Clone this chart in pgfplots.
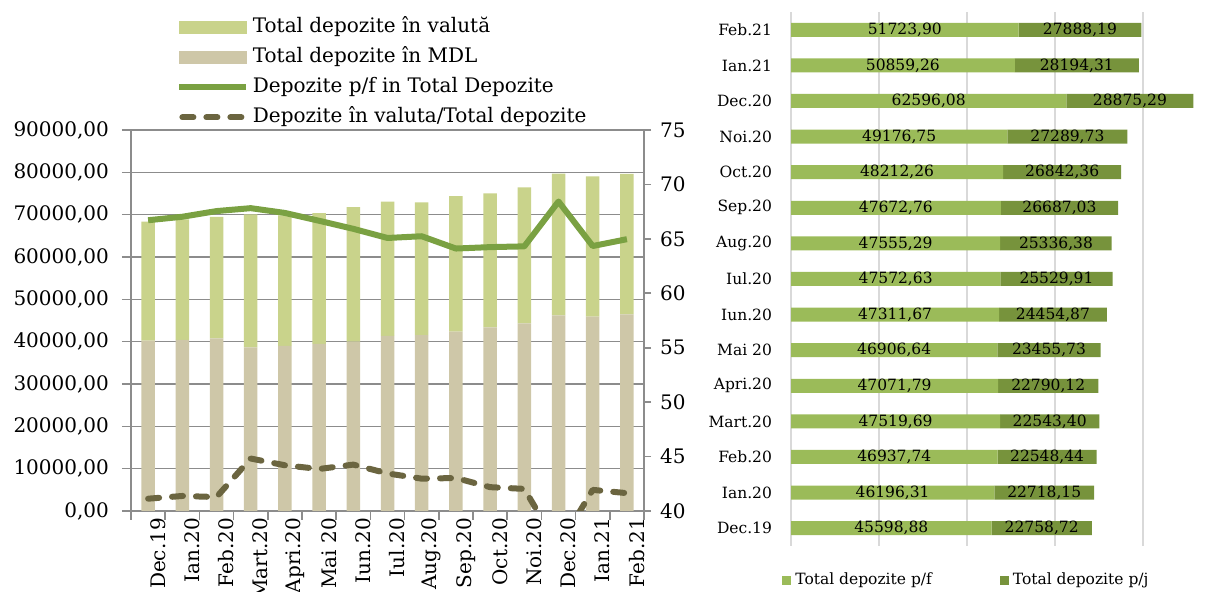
\documentclass[border=0pt]{standalone}
\usepackage{fontspec}
\setmainfont{DejaVu Serif}
\usepackage{pgfplots}
\usepackage{pgfplotstable}
\pgfplotsset{compat=1.18}
\pgfplotsset{/pgf/number format/assume math mode=true}

\definecolor{valcol}{RGB}{201,211,139}
\definecolor{mdlcol}{RGB}{206,199,168}
\definecolor{pfline}{RGB}{122,161,66}
\definecolor{dashcol}{RGB}{107,101,64}
\definecolor{pfbar}{RGB}{155,187,89}
\definecolor{pjbar}{RGB}{119,147,60}
\definecolor{gridgray}{RGB}{140,140,140}
\definecolor{lightgrid}{RGB}{217,217,217}

\pgfplotsset{
  sqlegend/.style={legend image code/.code={\fill[##1] (0pt,-2.25pt) rectangle (4.5pt,2.25pt);}},
  lnlegend/.style={legend image code/.code={\draw[##1] (0pt,0pt) -- (33.5pt,0pt);}},
  dslegend/.style={legend image code/.code={\draw[##1] (1.5pt,0pt) -- (33.5pt,0pt);}},
}

\pgfplotstableread{
idx mdl val pf vp
0 40240 28117.60 66.71 41.13
1 40400 28514.46 67.03 41.38
2 40800 28686.18 67.55 41.28
3 38660 31403.09 67.82 44.82
4 38980 30881.91 67.38 44.20
5 39500 30862.37 66.66 43.86
6 40000 31766.54 65.92 44.26
7 41340 31762.54 65.08 43.45
8 41570 31321.67 65.24 42.97
9 42360 31999.79 64.11 43.03
10 43390 31664.62 64.24 42.19
11 44330 32136.48 64.31 42.03
12 46220 33480.00 68.43 36.70
13 45900 33153.57 64.34 41.94
14 46460 33152.09 64.97 41.64
}\lefttab

\pgfplotstableread{
idx pf pj lpf lpj
0 45598.88 22758.72 45598,88 22758,72
1 46196.31 22718.15 46196,31 22718,15
2 46937.74 22548.44 46937,74 22548,44
3 47519.69 22543.40 47519,69 22543,40
4 47071.79 22790.12 47071,79 22790,12
5 46906.64 23455.73 46906,64 23455,73
6 47311.67 24454.87 47311,67 24454,87
7 47572.63 25529.91 47572,63 25529,91
8 47555.29 25336.38 47555,29 25336,38
9 47672.76 26687.03 47672,76 26687,03
10 48212.26 26842.36 48212,26 26842,36
11 49176.75 27289.73 49176,75 27289,73
12 62596.08 28875.29 62596,08 28875,29
13 50859.26 28194.31 50859,26 28194,31
14 51723.90 27888.19 51723,90 27888,19
}\righttab

\begin{document}
\begin{tikzpicture}[x=1pt,y=1pt]
\useasboundingbox (0,0) rectangle (609,296);
\clip (0,0) rectangle (609,296);

% ---------- left chart: stacked columns ----------
\begin{axis}[
  at={(65.5pt,40.5pt)}, anchor=south west,
  width=256.5pt, height=190.5pt, scale only axis,
  xmin=-0.5, xmax=14.5, ymin=0, ymax=90000,
  enlargelimits=false,
  ybar stacked, bar width=6.75pt,
  axis x line*=bottom, axis y line*=left,
  axis line style={-, gridgray, line width=0.8pt},
  tick align=outside,
  ytick={0,10000,...,90000},
  ymajorgrids, grid style={gridgray, line width=0.8pt},
  scaled y ticks=false,
  y tick label style={/pgf/number format/fixed, /pgf/number format/fixed zerofill,
    /pgf/number format/precision=2, /pgf/number format/use comma, /pgf/number format/1000 sep={},
    font=\fontsize{10}{12}\selectfont, xshift=-3pt},
  ytick style={gridgray, line width=0.8pt},
  major tick length=4.5pt,
  xtick={-0.5,0.5,...,14.5}, xticklabels={},
  xtick style={gridgray, line width=0.8pt},
  extra x ticks={0,1,...,14},
  extra x tick labels={Dec.19,Ian.20,Feb.20,Mart.20,Apri.20,Mai 20,Iun.20,Iul.20,Aug.20,Sep.20,Oct.20,Noi.20,Dec.20,Ian.21,Feb.21},
  extra x tick style={major tick length=0pt, grid=none,
    xticklabel style={rotate=90, anchor=east, font=\fontsize{10}{12}\selectfont, yshift=-5pt}},
]
\addplot[fill=mdlcol, draw=none] table[x=idx,y=mdl]{\lefttab};
\addplot[fill=valcol, draw=none] table[x=idx,y=val]{\lefttab};
\end{axis}

% ---------- left chart: percentage lines (right axis) ----------
\begin{axis}[
  at={(65.5pt,40.5pt)}, anchor=south west,
  width=256.5pt, height=190.5pt, scale only axis,
  xmin=-0.5, xmax=14.5, ymin=40, ymax=75,
  axis y line*=right, axis x line=none,
  axis line style={-, gridgray, line width=0.8pt},
  tick align=outside, major tick length=3.5pt,
  ytick={40,45,...,75},
  ytick style={gridgray, line width=0.8pt},
  y tick label style={font=\fontsize{10}{12}\selectfont, xshift=1pt},
  legend style={at={(0.0877,1.2987)}, anchor=north west, draw=none, fill=none,
    font=\fontsize{10}{12}\selectfont, row sep=4.3pt, inner sep=0pt,
    nodes={inner xsep=1.75pt, inner ysep=0.5pt, text height=7.5pt, text depth=2.2pt}},
  legend cell align=left,
]
\addlegendimage{legend image code/.code={\fill[valcol] (0pt,-3pt) rectangle (33.5pt,3pt);}}
\addlegendentry{Total depozite în valută}
\addlegendimage{legend image code/.code={\fill[mdlcol] (0pt,-3pt) rectangle (33.5pt,3pt);}}
\addlegendentry{Total depozite în MDL}
\addplot[pfline, line width=3pt, line join=round, mark=none, lnlegend]
  table[x=idx,y=pf]{\lefttab};
\addlegendentry{Depozite p/f in Total Depozite}
\addplot[dashcol, line width=3pt, line cap=round, line join=round, mark=none,
  dash pattern=on 5.5pt off 6.5pt, dslegend]
  table[x=idx,y=vp]{\lefttab};
\addlegendentry{Depozite în valuta/Total depozite}
\end{axis}

% ---------- right chart: stacked horizontal bars ----------
\begin{axis}[
  at={(395.5pt,23pt)}, anchor=south west,
  width=206.8pt, height=267pt, scale only axis,
  xbar stacked, bar width=7pt,
  xmin=0, xmax=94000, ymin=-0.5, ymax=14.5,
  enlargelimits=false,
  scaled x ticks=false,
  axis line style={draw=none},
  xtick={0,20000,...,80000}, xticklabels={},
  xmajorgrids, grid style={lightgrid, line width=1pt},
  major tick length=0pt,
  ytick={0,1,...,14},
  yticklabels={Dec.19,Ian.20,Feb.20,Mart.20,Apri.20,Mai 20,Iun.20,Iul.20,Aug.20,Sep.20,Oct.20,Noi.20,Dec.20,Ian.21,Feb.21},
  y tick label style={font=\fontsize{7.75}{9}\selectfont, xshift=-6pt},
  legend style={at={(-0.0218,-0.064)}, anchor=west, draw=none, fill=none,
    font=\fontsize{7.75}{9}\selectfont, legend columns=2, inner sep=0pt,
    /tikz/every even column/.append style={column sep=32pt}},
  sqlegend,
]
\addplot[fill=pfbar, draw=none] table[x=pf,y=idx]{\righttab};
\addlegendentry{Total depozite p/f}
\addplot[fill=pjbar, draw=none] table[x=pj,y=idx]{\righttab};
\addlegendentry{Total depozite p/j}
\end{axis}

% ---------- right chart: value labels ----------
\begin{axis}[
  at={(395.5pt,23pt)}, anchor=south west,
  width=206.8pt, height=267pt, scale only axis,
  xmin=0, xmax=94000, ymin=-0.5, ymax=14.5,
  hide axis, clip=false,
]
\addplot[only marks, mark=*, mark size=0pt, mark options={draw=none, fill=none},
  nodes near coords, point meta=explicit symbolic,
  every node near coord/.append style={anchor=center, font=\fontsize{7.75}{9}\selectfont, inner sep=0pt, yshift=0pt}]
  table[x expr=\thisrow{pf}/2, y=idx, meta=lpf]{\righttab};
\addplot[only marks, mark=*, mark size=0pt, mark options={draw=none, fill=none},
  nodes near coords, point meta=explicit symbolic,
  every node near coord/.append style={anchor=center, font=\fontsize{7.75}{9}\selectfont, inner sep=0pt, yshift=0pt}]
  table[x expr=\thisrow{pf}+\thisrow{pj}/2, y=idx, meta=lpj]{\righttab};
\end{axis}
\end{tikzpicture}
\end{document}
